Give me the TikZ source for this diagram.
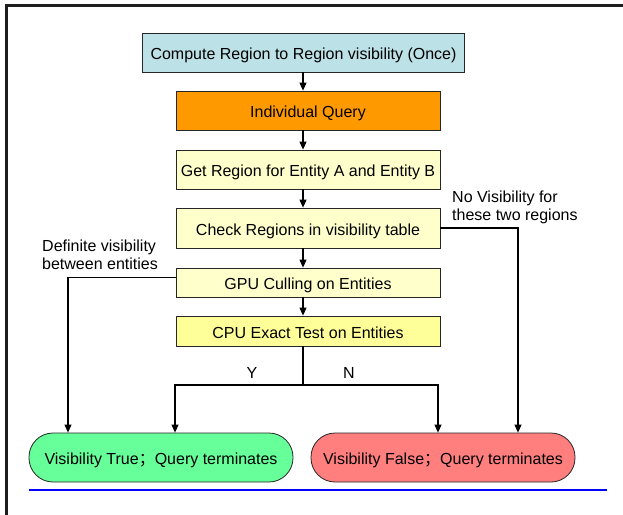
\documentclass[tikz,border=0pt]{standalone}
\usepackage{fontspec}
\setmainfont{Liberation Sans}
\newfontfamily\cjk{Noto Sans CJK SC}
\usetikzlibrary{arrows.meta}
\definecolor{cblue}{RGB}{188,225,230}
\definecolor{corange}{RGB}{255,153,0}
\definecolor{cpale}{RGB}{255,255,204}
\definecolor{cyel}{RGB}{255,255,153}
\definecolor{cgreen}{RGB}{102,255,153}
\definecolor{cred}{RGB}{255,127,127}
\definecolor{cframe}{RGB}{30,30,30}
\tikzset{
  stepbox/.style={draw=black!85, line width=0.8pt, inner sep=0pt, minimum width=264pt,
    text height=14pt, text depth=0pt, font=\fontsize{16}{18}\selectfont},
  endbox/.style={draw=black!85, line width=0.8pt, rounded corners=24pt, inner sep=0pt,
    minimum width=264pt, minimum height=49pt, text height=14pt, text depth=0pt,
    font=\fontsize{16}{18}\selectfont},
  arr/.style={line width=1.1pt, -{Triangle[length=8pt,width=7pt]}},
  lne/.style={line width=1.1pt},
  lbl/.style={inner sep=0pt, align=left, font=\fontsize{16}{18}\selectfont, anchor=north west},
}
\begin{document}
\begin{tikzpicture}[x=1pt,y=-1pt]
\useasboundingbox (0,0) rectangle (623,514);
\fill[white] (0,0) rectangle (623,514);
\draw[cframe, line width=2.6pt, line join=miter] (6.3,520) -- (6.3,5.3) -- (630,5.3);

\node[stepbox, fill=cblue, minimum width=322pt, minimum height=39pt] (b1) at (303.5,52.5)
  {Compute Region to Region visibility (Once)};
\node[stepbox, fill=corange, minimum height=39pt] (b2) at (308,110.5) {Individual Query};
\node[stepbox, fill=cpale, minimum height=39pt] (b3) at (308,169.5) {Get Region for Entity A and Entity B};
\node[stepbox, fill=cpale, minimum height=40pt] (b4) at (308,228) {Check Regions in visibility table};
\node[stepbox, fill=cpale, minimum height=29pt] (b5) at (308,282.5) {GPU Culling on Entities};
\node[stepbox, fill=cyel, minimum height=30pt] (b6) at (308,331) {CPU Exact Test on Entities};

\node[endbox, fill=cgreen] (vt) at (161,457.5) {Visibility True{\cjk ；}Query terminates};
\node[endbox, fill=cred] (vf) at (443,457.5) {Visibility False{\cjk ；}Query terminates};

\coordinate (ax) at (303,0);
\coordinate (xl) at (68,0);
\coordinate (xr) at (518,0);
\coordinate (yl) at (175,0);
\coordinate (nl) at (438,0);
\coordinate (split) at (303,385);

\draw[arr] (b1.south -| ax) -- (b2.north -| ax);
\draw[arr] (b2.south -| ax) -- (b3.north -| ax);
\draw[arr] (b3.south -| ax) -- (b4.north -| ax);
\draw[arr] (b4.south -| ax) -- (b5.north -| ax);
\draw[arr] (b5.south -| ax) -- (b6.north -| ax);

\draw[lne] (b6.south -| split) -- (split);
\draw[arr] (split) -| (yl |- vt.north);
\draw[arr] (split) -| (nl |- vf.north);

\draw[arr] ([yshift=5pt]b5.west) -| (xl |- vt.north);
\draw[arr] (b4.east) -| (xr |- vf.north);

\node[lbl] (lno) at (452,191) {No Visibility for\\these two regions};
\node[lbl] (ldef) at (42,240) {Definite visibility\\between entities};
\node[inner sep=0pt, font=\fontsize{16}{18}\selectfont] (ly) at (252,373) {Y};
\node[inner sep=0pt, font=\fontsize{16}{18}\selectfont] (ln) at (349,373) {N};

\draw[blue, line width=1.6pt] (29,490) -- (607,490);
\end{tikzpicture}
\end{document}
